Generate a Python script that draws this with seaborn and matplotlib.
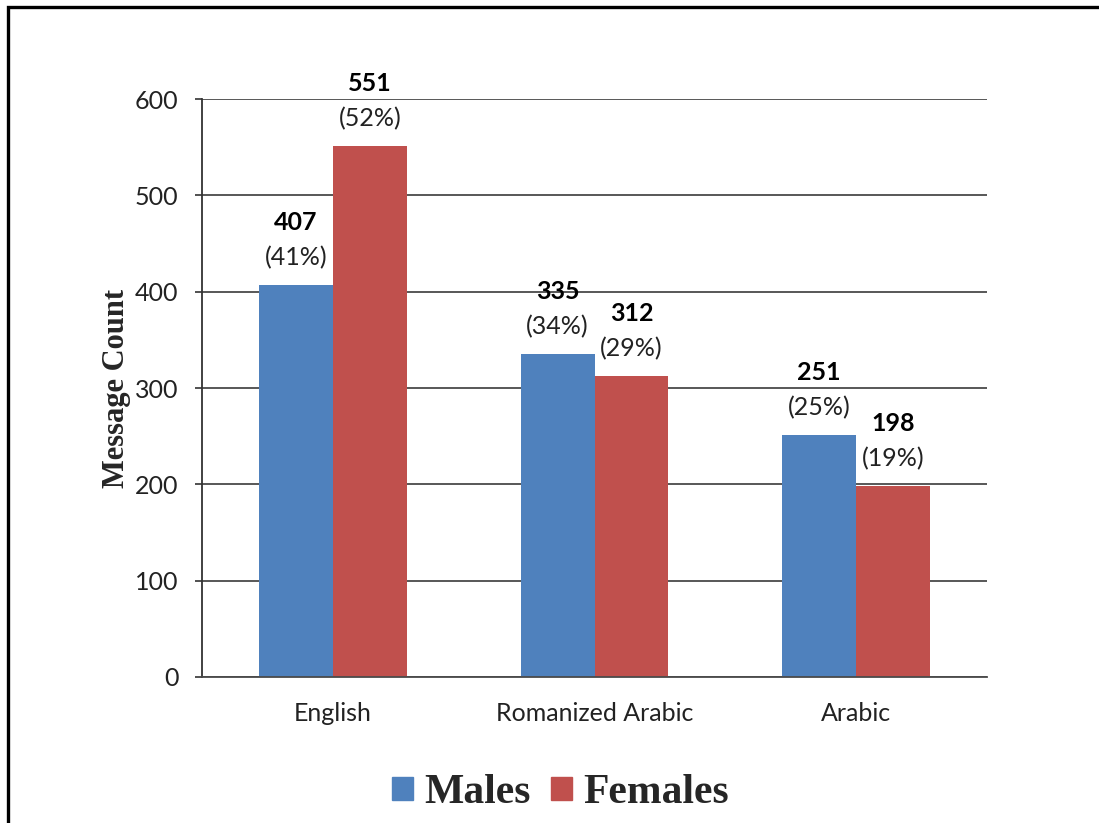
import matplotlib.pyplot as plt
import matplotlib.patches as mpatches
import seaborn as sns
import pandas as pd

# Message counts per script, by gender
languages = ["English", "Romanized Arabic", "Arabic"]
males = [407, 335, 251]
females = [551, 312, 198]
males_pct = [41, 34, 25]
females_pct = [52, 29, 19]

groups = ["Males", "Females"]
colors = ["#4F81BD", "#C0504D"]

df = pd.DataFrame({
    "Language": languages * 2,
    "Group": ["Males"] * 3 + ["Females"] * 3,
    "Count": males + females,
})

sns.set_style("white")
plt.rcParams["font.family"] = ["Lato", "DejaVu Sans"]

fig = plt.figure(figsize=(10.99, 8.23), dpi=100)
ax = fig.add_axes([0.1838, 0.1774, 0.7143, 0.7023])

sns.barplot(data=df, x="Language", y="Count", hue="Group", hue_order=groups,
            palette=colors, width=0.565, saturation=1, gap=0, ax=ax,
            legend=False, edgecolor="none")

ax.set_ylim(0, 600)
ax.set_yticks(range(0, 601, 100))
ax.yaxis.grid(True, color="#4a4a4a", linewidth=1.3)
ax.set_axisbelow(True)
for side in ["top", "right"]:
    ax.spines[side].set_visible(False)
ax.spines["left"].set_color("#333333")
ax.spines["left"].set_linewidth(1.3)
ax.spines["bottom"].set_color("#4a4a4a")
ax.spines["bottom"].set_linewidth(1.3)
ax.tick_params(axis="y", length=5, width=1.2, color="#333333", pad=12,
               labelsize=18, labelcolor="#222222", left=True)
ax.tick_params(axis="x", length=0, pad=18, labelsize=18, labelcolor="#222222")
ax.set_xlabel("")
ax.set_ylabel("Message Count", family="Liberation Serif", fontweight="bold",
              fontsize=22)
ax.yaxis.set_label_coords(-0.09, 0.5)

# value labels: bold count, then percentage
for cont, vals, pcts in zip(ax.containers, [males, females],
                            [males_pct, females_pct]):
    for bar, v, p in zip(cont, vals, pcts):
        cx = bar.get_x() + bar.get_width() / 2
        top = bar.get_height()
        ax.annotate(f"({p}%)", (cx, top), xytext=(0, 20),
                    textcoords="offset points", ha="center", va="center",
                    fontsize=18, color="#222222")
        ax.annotate(f"{v}", (cx, top), xytext=(0, 45),
                    textcoords="offset points", ha="center", va="center",
                    fontsize=18, fontweight="bold", color="black")

handles = [mpatches.Patch(color=c, label=g) for g, c in zip(groups, colors)]
fig.legend(handles=handles, loc="center", bbox_to_anchor=(0.51, 0.036),
           ncol=2, frameon=False, handlelength=0.5, handleheight=0.5,
           handletextpad=0.27, columnspacing=0.5,
           prop={"family": "Liberation Serif", "weight": "bold", "size": 30})

# outer frame around the chart
frame = mpatches.Rectangle((8 / 1099, -0.1), 1.2, (823 - 7) / 823 + 0.1,
                           transform=fig.transFigure, fill=False,
                           edgecolor="black", linewidth=2.4)
fig.patches.append(frame)

fig.savefig("out.png", dpi=100)
